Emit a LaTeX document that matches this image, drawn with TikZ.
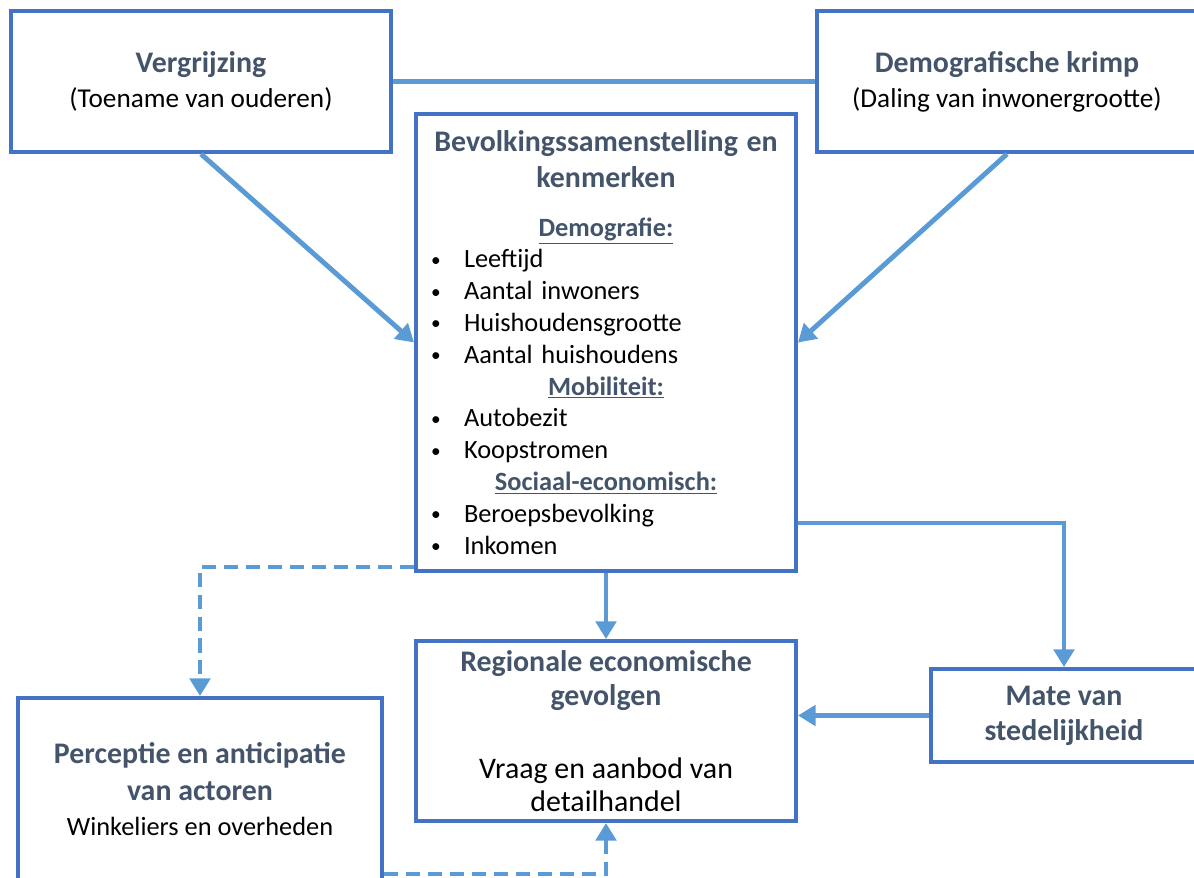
\documentclass[tikz,border=0pt]{standalone}
\usepackage{fontspec}
\setmainfont{Carlito}
\usetikzlibrary{arrows.meta}
\definecolor{kmborder}{HTML}{4472C4}
\definecolor{kmarrow}{HTML}{5B9BD5}
\definecolor{kmhead}{HTML}{44546A}

\newcommand{\kmhd}[1]{\textcolor{kmhead}{\bfseries\fontsize{17}{19}\selectfont #1}}
\newcommand{\kmsub}[1]{\makebox[7cm][c]{\textcolor{kmhead}{\bfseries\underline{#1}}}}
\newcommand{\kmitem}[1]{\makebox[0.66cm][l]{\raisebox{0.12ex}{\fontsize{11}{11}\selectfont\textbullet}}#1}

\begin{document}
\begin{tikzpicture}[x=0.02cm, y=-0.02cm,
    box/.style={draw=kmborder, line width=2.3pt, fill=white, align=center,
      font=\fontsize{15.5}{19.8}\selectfont},
    link/.style={draw=kmarrow, line width=2.8pt},
    arr/.style={link, -{Triangle[width=11.5pt,length=10pt]}},
    dasharr/.style={arr, dash pattern=on 8pt off 4.5pt}]
  \clip (0,0) rectangle (1194,877);
  \useasboundingbox (0,0) rectangle (1194,877);

  % Oorzaken
  \node[box, minimum width=7.6cm, minimum height=2.82cm] (verg) at (201,81.5)
    {\kmhd{Vergrijzing}\\(Toename van ouderen)};
  \node[box, minimum width=7.6cm, minimum height=2.82cm] (krimp) at (1007,81.5)
    {\kmhd{Demografische krimp}\\(Daling van inwonergrootte)};

  % Bevolking
  \node[box, text width=7cm, inner xsep=0.3cm, minimum height=9.14cm, align=left,
    font=\fontsize{15}{18.1}\selectfont] (bev) at (606,342.5)
    {\makebox[7cm][c]{\kmhd{Bevolkingssamenstelling en}}\\[2.3pt]
     \makebox[7cm][c]{\kmhd{kenmerken}}\\[9.5pt]
     \kmsub{Demografie:}\\
     \kmitem{Leeftijd}\\
     \kmitem{Aantal inwoners}\\
     \kmitem{Huishoudensgrootte}\\
     \kmitem{Aantal huishoudens}\\
     \kmsub{Mobiliteit:}\\
     \kmitem{Autobezit}\\
     \kmitem{Koopstromen}\\
     \kmsub{Sociaal-economisch:}\\
     \kmitem{Beroepsbevolking}\\
     \kmitem{Inkomen}};

  % Gevolgen
  \node[box, minimum width=7.6cm, minimum height=3.6cm, font=\fontsize{15}{18.7}\selectfont]
    (reg) at (606,731)
    {\kmhd{Regionale economische}\\[1pt] \kmhd{gevolgen}\\[23pt]
     {\fontsize{17}{19}\selectfont Vraag en aanbod van}\\
     {\fontsize{17}{19}\selectfont detailhandel}};
  \node[box, minimum width=5.32cm, minimum height=1.86cm] (mate) at (1064,715.5)
    {\kmhd{Mate van}\\ \kmhd{stedelijkheid}};
  \node[box, minimum width=7.28cm, minimum height=3.64cm,
    font=\fontsize{15}{19.8}\selectfont] (perc) at (200,789)
    {\kmhd{Perceptie en anticipatie}\\[1.2pt] \kmhd{van actoren}\\
     Winkeliers en overheden};

  % Verbindingen
  \draw[link] (verg) -- (krimp);
  \draw[arr] (verg.south) -- (bev.west);
  \draw[arr] (krimp.south) -- (bev.east);
  \draw[arr] (bev.south) -- (reg.north);
  \draw[arr] ([yshift=1cm]bev.south east) -| (mate.north);
  \draw[arr] (mate.west) -- (mate.west -| reg.east);
  \draw[dasharr] ([yshift=0.12cm]bev.south west) -| (perc.north);
  \draw[dasharr] ([yshift=0.16cm]perc.south east) -| (reg.south);
\end{tikzpicture}
\end{document}
